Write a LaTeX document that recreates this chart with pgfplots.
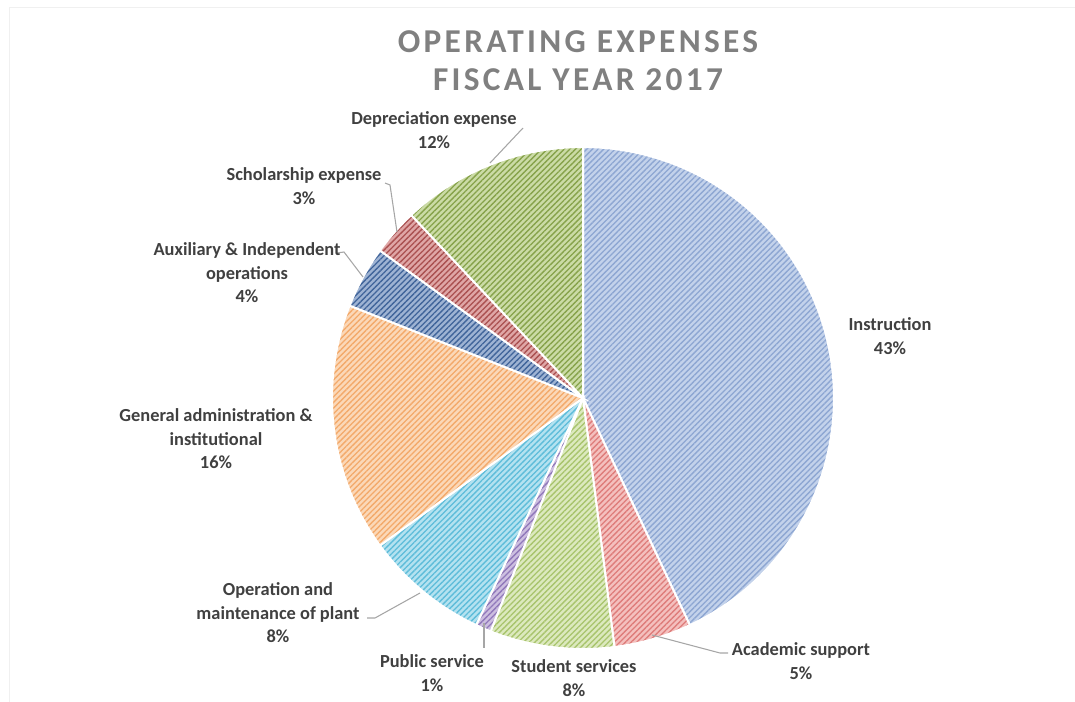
\documentclass[border=0pt]{standalone}
\usepackage{fontspec}
\setmainfont{Carlito}
\newfontfamily\titlefont[LetterSpace=10]{Carlito}
\usepackage{pgfplots}
\pgfplotsset{compat=1.18}
\usetikzlibrary{patterns.meta}

\definecolor{lbl}{HTML}{404040}
\definecolor{ttl}{HTML}{808080}
\definecolor{lead}{HTML}{A6A6A6}
% slice colours: background tint / hatch lines
\definecolor{instrBg}{HTML}{C3D2EB}\definecolor{instrLn}{HTML}{8DA6D2}
\definecolor{acadBg}{HTML}{F4C0BE}\definecolor{acadLn}{HTML}{DE7C7A}
\definecolor{studBg}{HTML}{DCE9BE}\definecolor{studLn}{HTML}{A8C46C}
\definecolor{pubBg}{HTML}{CDBFE0}\definecolor{pubLn}{HTML}{9078BA}
\definecolor{operBg}{HTML}{B4E2F0}\definecolor{operLn}{HTML}{5DBCD9}
\definecolor{genBg}{HTML}{FBD8B8}\definecolor{genLn}{HTML}{F3A96A}
\definecolor{auxBg}{HTML}{9EB3D3}\definecolor{auxLn}{HTML}{40649A}
\definecolor{schBg}{HTML}{DFA6A6}\definecolor{schLn}{HTML}{AA5050}
\definecolor{depBg}{HTML}{CBDBA6}\definecolor{depLn}{HTML}{86A24A}

\pgfplotsset{arcplot/.style={domain={90-3.6*#1}, samples=90, variable=\t}}
% one slice: cumulative start %, cumulative end %, background, hatch colour
\newcommand\slice[4]{%
  \addplot[draw=none, fill=#3, domain={90-3.6*#2}:{90-3.6*#1}, samples=90, variable=\t]
    ({cos(t)},{sin(t)}) -- (axis cs:0,0) -- cycle;
  \addplot[draw=none, pattern={Lines[angle=45,distance=3pt,line width=1pt]}, pattern color=#4,
    domain={90-3.6*#2}:{90-3.6*#1}, samples=90, variable=\t]
    ({cos(t)},{sin(t)}) -- (axis cs:0,0) -- cycle;
  \addplot[draw=white, line width=1.5pt, domain={90-3.6*#2}:{90-3.6*#1}, samples=90, variable=\t]
    ({cos(t)},{sin(t)}) -- (axis cs:0,0) -- cycle;}

\begin{document}
\begin{tikzpicture}
\begin{scope}[x=0.75pt,y=-0.75pt]
  \path[use as bounding box] (0,0) rectangle (1075,702);
  \draw[gray!12, line width=0.75pt] (9,702) -- (9,8) -- (1075,8);
\end{scope}

\begin{axis}[at={(437.25pt,-298.5pt)}, anchor=center,
  width=376.5pt, height=376.5pt, scale only axis, hide axis,
  xmin=-1, xmax=1, ymin=-1, ymax=1, clip=false]
% shares (%): Instruction 43, Academic support 5, Student services 8,
% Public service 1, Operation 8, General admin 16, Auxiliary 4,
% Scholarship 3, Depreciation 12
\slice{0}{43}{instrBg}{instrLn}
\slice{43}{48}{acadBg}{acadLn}
\slice{48}{56}{studBg}{studLn}
\slice{56}{57}{pubBg}{pubLn}
\slice{57}{65}{operBg}{operLn}
\slice{65}{81}{genBg}{genLn}
\slice{81}{85}{auxBg}{auxLn}
\slice{85}{88}{schBg}{schLn}
\slice{88}{100}{depBg}{depLn}
\end{axis}

\begin{scope}[x=0.75pt,y=-0.75pt]
  % title
  \node[font=\titlefont\bfseries\fontsize{25}{28.5}\selectfont, text=ttl, align=center]
    at (578,61) {OPERATING EXPENSES\\FISCAL YEAR 2017};
  % leader lines
  \draw[lead, line width=0.8pt] (523,128) -- (490,163);
  \draw[lead, line width=0.8pt] (385,183) -- (390,185) -- (397,232);
  \draw[lead, line width=0.8pt] (337,253) -- (344,252) -- (363,277);
  \draw[lead, line width=0.8pt] (367,618) -- (375,618) -- (420,593);
  \draw[lead, line width=0.8pt] (484,623) -- (484,648);
  \draw[lead, line width=0.8pt] (652,635) -- (720,653) -- (728,653);
  % labels
  \tikzset{lab/.style={font=\bfseries\fontsize{13.8}{17.6}\selectfont, text=lbl, align=center}}
  \node[lab] at (434,130) {Depreciation expense\\12\%};
  \node[lab] at (304,186) {Scholarship expense\\3\%};
  \node[lab] at (247,273) {Auxiliary \& Independent\\operations\\4\%};
  \node[lab] at (890,336) {Instruction\\43\%};
  \node[lab] at (216,439) {General administration \&\\institutional\\16\%};
  \node[lab] at (278,613) {Operation and\\maintenance of plant\\8\%};
  \node[lab] at (432,673) {Public service\\1\%};
  \node[lab] at (574,678) {Student services\\8\%};
  \node[lab] at (801,661) {Academic support\\5\%};
\end{scope}
\end{tikzpicture}
\end{document}
